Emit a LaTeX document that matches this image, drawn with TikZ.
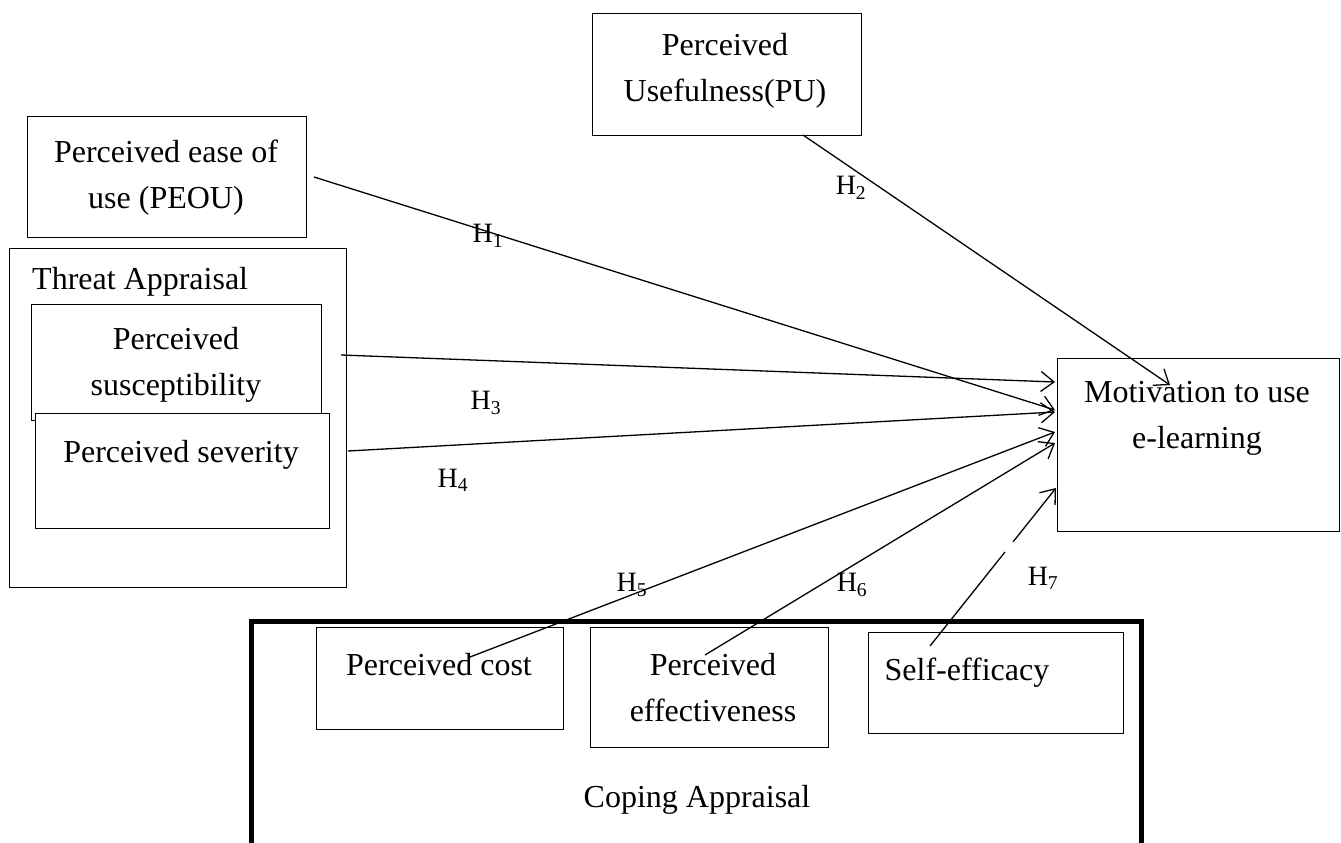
\documentclass[tikz,border=0pt]{standalone}
\usepackage{fontspec}
\setmainfont{Liberation Serif}
\usetikzlibrary{arrows.meta,calc}
\begin{document}
\begin{tikzpicture}[x=1pt,y=-1pt,
  box/.style={draw,line width=1.3pt,inner sep=0pt,anchor=north west,fill=white},
  txt/.style={font=\fontsize{32}{46}\selectfont,align=center,inner sep=0pt},
  hl/.style={font=\fontsize{28}{30}\selectfont,inner sep=0pt},
  lin/.style={line width=1.3pt},
  conn/.style={lin,-{Straight Barb[length=13pt,width=20pt,line width=1.3pt]}}]
\useasboundingbox (0,0) rectangle (1341,843);
\fill[white] (0,0) rectangle (1341,843);
% coping appraisal frame
\coordinate (cpl) at (251,850);
\coordinate (cpr) at (1141,850);
\draw[line width=5pt] (cpl) |- (697,621) -| (cpr);
\node[txt] (coping) at (697,800) {Coping Appraisal};
% boxes
\node[box,minimum width=269pt,minimum height=122pt] (pubox) at (592,13) {};
\node[txt] (pu) at (725,71) {Perceived\\Usefulness(PU)};
\node[box,minimum width=279pt,minimum height=121pt] (peoubox) at (27,116) {};
\node[txt] (peou) at (166,178) {Perceived ease of\\use (PEOU)};
\node[box,minimum width=337pt,minimum height=339pt] (threatbox) at (9,248) {};
\node[txt,anchor=west] (threat) at (32,282) {Threat Appraisal};
\node[box,minimum width=290pt,minimum height=116pt] (suscbox) at (31,304) {};
\node[txt] (susc) at (176,365) {Perceived\\susceptibility};
\node[box,minimum width=294pt,minimum height=115pt] (sevbox) at (35,413) {};
\node[txt] (sev) at (181,455) {Perceived severity};
\node[box,minimum width=282pt,minimum height=173pt] (motbox) at (1057,358) {};
\node[txt] (mot) at (1197,418) {Motivation to use\\e-learning};
\node[box,minimum width=247pt,minimum height=102pt] (costbox) at (316,627) {};
\node[txt] (cost) at (439,665) {Perceived cost};
\node[box,minimum width=238pt,minimum height=120pt] (effbox) at (590,627) {};
\node[txt] (eff) at (713,688) {Perceived\\effectiveness};
\node[box,minimum width=255pt,minimum height=101pt] (sebox) at (868,632) {};
\node[txt] (se) at (967,673) {Self-efficacy};
% connector end points
\coordinate (s1) at (314,177);
\coordinate (m1) at (1055,410);
\coordinate (s2) at (803,135);
\coordinate (m2) at (1170,385);
\coordinate (s3) at (341,355);
\coordinate (m3) at (1055,382);
\coordinate (s4) at (348,451);
\coordinate (m4) at (1055,412);
\coordinate (s5) at (470,657);
\coordinate (m5) at (1055,432);
\coordinate (s6) at (705,655);
\coordinate (m6) at (1055,443);
\coordinate (s7) at (930,646);
\coordinate (m7) at (1056,488);
\draw[conn] (s1) -- (m1);
\draw[conn] (s2) -- (m2);
\draw[conn] (s3) -- (m3);
\draw[conn] (s4) -- (m4);
\draw[conn] (s5) -- (m5);
\draw[conn] (s6) -- (m6);
\draw[lin] (s7) -- ($(s7)!0.595!(m7)$);
\draw[conn] ($(s7)!0.66!(m7)$) -- (m7);
% labels
\node[hl] (h1) at (488,236) {H\textsubscript{1}};
\node[hl] (h2) at (851,188) {H\textsubscript{2}};
\node[hl] (h3) at (486,403) {H\textsubscript{3}};
\node[hl] (h4) at (453,480) {H\textsubscript{4}};
\node[hl] (h5) at (632,585) {H\textsubscript{5}};
\node[hl] (h6) at (852,585) {H\textsubscript{6}};
\node[hl] (h7) at (1043,578) {H\textsubscript{7}};
\end{tikzpicture}
\end{document}
